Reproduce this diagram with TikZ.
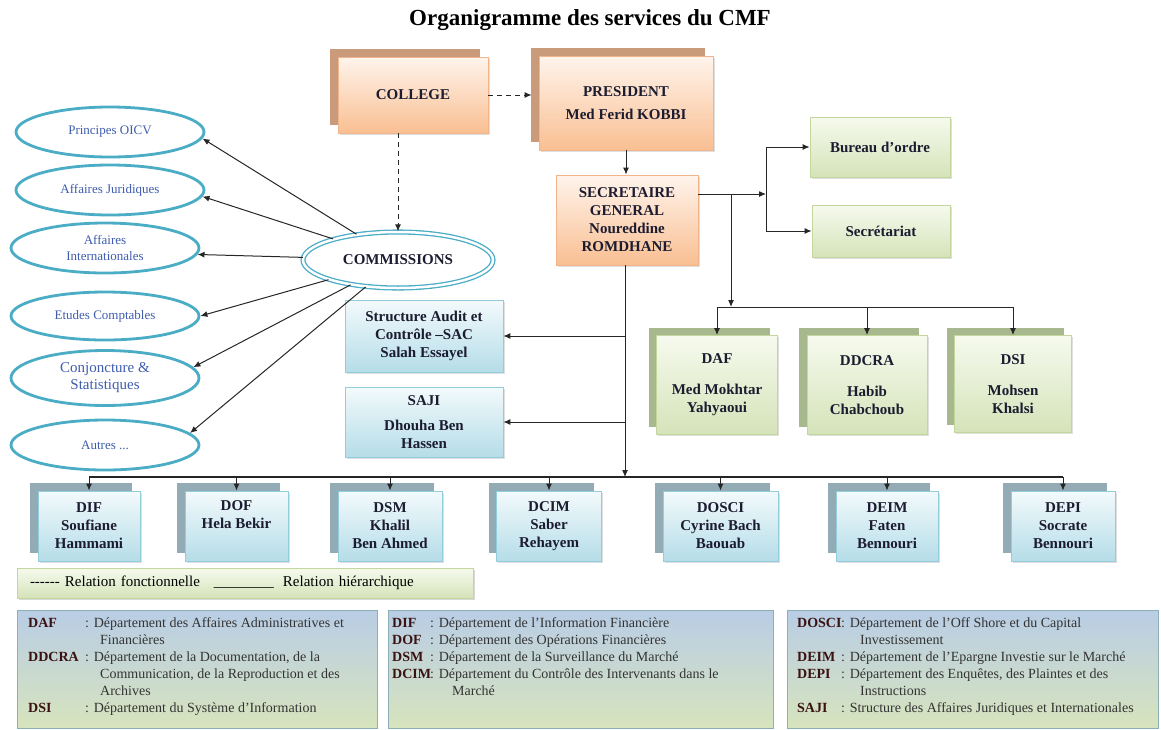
\documentclass[tikz,border=0pt]{standalone}
\usepackage{fontspec}
\setmainfont{Liberation Serif}
\usetikzlibrary{shapes.geometric,shadows,arrows.meta,calc}

\definecolor{orhaut}{HTML}{FFF4EC}
\definecolor{orbas}{HTML}{F9BF92}
\definecolor{orbord}{HTML}{F2B48A}
\definecolor{orombre}{HTML}{C99B7B}
\definecolor{verthaut}{HTML}{F6FAEE}
\definecolor{vertbas}{HTML}{D5E3B9}
\definecolor{vertbord}{HTML}{C3D69B}
\definecolor{vertombre}{HTML}{A7B78E}
\definecolor{bleuhaut}{HTML}{F3FAFC}
\definecolor{bleubas}{HTML}{B5DDE8}
\definecolor{bleubord}{HTML}{92CDDC}
\definecolor{bleuombre}{HTML}{93ABB5}
\definecolor{turq}{HTML}{4BACC6}
\definecolor{bleutxt}{HTML}{3F5DAE}
\definecolor{panhaut}{HTML}{B9CDE5}
\definecolor{panbas}{HTML}{D7E4BD}
\definecolor{encre}{HTML}{1C1C30}
\definecolor{sigle}{HTML}{3A1212}
\definecolor{trait}{HTML}{262626}

% sigle en gras, largeur fixe
\newcommand{\abrev}[2][57pt]{\makebox[#1][l]{\bfseries\color{sigle}#2}}

\tikzset{
  boite/.style={rectangle, draw, line width=0.8pt, align=center, text=encre,
    font=\fontsize{15}{18}\selectfont\bfseries, inner sep=2pt,
    drop shadow={shadow xshift=1.5pt, shadow yshift=-1.5pt, opacity=.25}},
  boiteor/.style={boite, draw=orbord, top color=orhaut, bottom color=orbas},
  boitevert/.style={boite, draw=vertbord, top color=verthaut, bottom color=vertbas},
  boitebleu/.style={boite, draw=bleubord, top color=bleuhaut, bottom color=bleubas},
  dos/.style={general shadow={fill=#1, draw=none, shadow xshift=-8pt, shadow yshift=8pt}},
  bulle/.style={ellipse, draw=turq, line width=2.8pt, fill=white, text=bleutxt,
    font=\fontsize{13}{16}\selectfont, align=center, inner sep=0pt,
    minimum width=188, minimum height=50},
  comm/.style={ellipse, draw=turq, double=white, line width=1.3pt, double distance=2.5pt,
    fill=white, text=encre, font=\fontsize{15}{18}\selectfont\bfseries,
    minimum width=190, minimum height=56},
  fleche/.style={-{Latex[length=7pt,width=6pt]}, line width=1pt, draw=trait},
  tirets/.style={fleche, dash pattern=on 5pt off 4pt},
  panneau/.style={rectangle, draw=bleubord!60!gray, line width=0.5pt,
    top color=panhaut, bottom color=panbas, anchor=north west, inner sep=0pt},
  texteleg/.style={anchor=north west, inner sep=0pt, text=black!80, align=left,
    font=\fontsize{14}{17}\selectfont},
}

\begin{document}
\begin{tikzpicture}[x=1pt,y=-1pt]
  \useasboundingbox (0,0) rectangle (1161,729);
  \node[font=\fontsize{23}{26}\selectfont\bfseries] (titre) at (590,20) {Organigramme des services du CMF};

  % collège, président, secrétaire général
  \node[boiteor, dos=orombre, minimum width=150, minimum height=76] (col) at (413,95) {COLLEGE};
  \node[boiteor, dos=orombre, minimum width=174, minimum height=94] (pres) at (626,103) {PRESIDENT\\[5pt]Med Ferid KOBBI};
  \node[boiteor, minimum width=142, minimum height=90] (sg) at (627,220) {SECRETAIRE\\GENERAL\\Noureddine\\ROMDHANE};

  % bureau d'ordre, secrétariat
  \node[boitevert, minimum width=140, minimum height=60] (bo) at (880,147) {Bureau d’ordre};
  \node[boitevert, minimum width=138, minimum height=52] (sec) at (881,231) {Secrétariat};

  % départements rattachés au SG
  \node[boitevert, dos=vertombre, minimum width=121, minimum height=99] (daf) at (717,385) {DAF\\[13pt]Med Mokhtar\\Yahyaoui};
  \node[boitevert, dos=vertombre, minimum width=120, minimum height=99] (ddcra) at (867,385) {DDCRA\\[13pt]Habib\\Chabchoub};
  \node[boitevert, dos=vertombre, minimum width=117, minimum height=97] (dsi) at (1013,384) {DSI\\[13pt]Mohsen\\Khalsi};

  % SAC, SAJI
  \node[boitebleu, minimum width=158, minimum height=72] (sac) at (424,336) {Structure Audit et\\Contrôle –SAC\\Salah Essayel};
  \node[boitebleu, minimum width=158, minimum height=70] (saji) at (424,422) {SAJI\\[7pt]Dhouha Ben\\Hassen};

  % directions du bas
  \node[boitebleu, dos=bleuombre, minimum width=102, minimum height=70] (dif) at (89,526) {DIF\\Soufiane\\Hammami};
  \node[boitebleu, dos=bleuombre, minimum width=103, minimum height=70] (dof) at (236.5,526) {DOF\\Hela Bekir\\\strut};
  \node[boitebleu, dos=bleuombre, minimum width=104, minimum height=70] (dsm) at (390,526) {DSM\\Khalil\\Ben Ahmed};
  \node[boitebleu, dos=bleuombre, minimum width=105, minimum height=70] (dcim) at (549,526) {DCIM\\Saber\\Rehayem};
  \node[boitebleu, dos=bleuombre, minimum width=115, minimum height=70] (dosci) at (720.5,526) {DOSCI\\Cyrine Bach\\Baouab};
  \node[boitebleu, dos=bleuombre, minimum width=102, minimum height=70] (deim) at (887,526) {DEIM\\Faten\\Bennouri};
  \node[boitebleu, dos=bleuombre, minimum width=104, minimum height=70] (depi) at (1063,526) {DEPI\\Socrate\\Bennouri};

  % commissions
  \node[bulle] (oicv) at (110,132) {Principes OICV};
  \node[bulle] (jur) at (110,190) {Affaires Juridiques};
  \node[bulle] (inter) at (105,248) {Affaires\\Internationales};
  \node[bulle, minimum height=48] (etu) at (105,316) {Etudes Comptables};
  \node[bulle, minimum height=55, font=\fontsize{15}{17}\selectfont] (conj) at (105,378) {Conjoncture \&\\Statistiques};
  \node[bulle] (aut) at (105,445) {Autres ...};
  \node[comm] (com) at (398,260) {COMMISSIONS};

  % relations fonctionnelles
  \draw[tirets] (col.east) -- ($(col.east -| pres.west)+(-7,0)$);
  \draw[tirets] (col.south -| com.north) -- (com.north);
  \foreach \e/\a in {oicv/-4, jur/-4, inter/-4, etu/0, conj/7, aut/8}
    \draw[fleche] (com) -- (\e.\a);

  % relations hiérarchiques
  \coordinate (jr) at (766,194);
  \coordinate (jd) at (731,194);
  \coordinate (hs) at (731,307);
  \coordinate (hb) at (625,477);
  \draw[fleche] (pres.south) -- (pres.south |- sg.north);
  \draw[fleche] (sg.east |- jr) -- (jr);
  \draw[line width=1pt, trait] (jr |- bo) -- (jr |- sec);
  \draw[fleche] (jr |- bo) -- (bo);
  \draw[fleche] (jr |- sec) -- (sec);
  \draw[fleche] (jd) -- (hs);
  \draw[line width=1pt, trait] (hs -| daf) -- (hs -| dsi);
  \foreach \n in {daf,ddcra,dsi}
    \draw[fleche] (hs -| \n) -- (\n);
  \draw[fleche] (sg.south -| hb) -- (hb);
  \draw[fleche] (hb |- sac) -- (sac);
  \draw[fleche] (hb |- saji) -- (saji);
  \draw[line width=1.2pt, trait] (hb -| dif) -- (hb -| depi);
  \foreach \n in {dif,dof,dsm,dcim,dosci,deim,depi}
    \draw[fleche] (hb -| \n) -- (\n);

  % légende
  \node[rectangle, draw=vertbord, line width=0.6pt, top color=verthaut, bottom color=vertbas,
    minimum width=456, minimum height=30, text width=430, align=left,
    font=\fontsize{15}{17}\selectfont,
    drop shadow={shadow xshift=1.5pt, shadow yshift=-1.5pt, opacity=.3}] (leg) at (245,583)
    {{-}{-}{-}{-}{-}{-} Relation fonctionnelle\hspace{14pt}\_\_\_\_\_\_\_\_\hspace{9pt}Relation hiérarchique};

  % sigles
  \node[panneau, minimum width=360, minimum height=118] (p1) at (17,610) {};
  \node[panneau, minimum width=385, minimum height=118] (p2) at (388,610) {};
  \node[panneau, minimum width=371, minimum height=118] (p3) at (787,610) {};
  \node[texteleg] (t1) at ($(p1.north west)+(11,7)$) {%
    \abrev{DAF}: Département des Affaires Administratives et\\
    \hspace{72pt}Financières\\
    \abrev{DDCRA}: Département de la Documentation, de la\\
    \hspace{72pt}Communication, de la Reproduction et des\\
    \hspace{72pt}Archives\\
    \abrev{DSI}: Département du Système d’Information};
  \node[texteleg] (t2) at ($(p2.north west)+(4,7)$) {%
    \abrev[38pt]{DIF}: Département de l’Information Financière\\
    \abrev[38pt]{DOF}: Département des Opérations Financières\\
    \abrev[38pt]{DSM}: Département de la Surveillance du Marché\\
    \abrev[38pt]{DCIM}: Département du Contrôle des Intervenants dans le\\
    \hspace{60pt}Marché};
  \node[texteleg] (t3) at ($(p3.north west)+(10,7)$) {%
    \abrev[44pt]{DOSCI}: Département de l’Off Shore et du Capital\\
    \hspace{63pt}Investissement\\
    \abrev[44pt]{DEIM}: Département de l’Epargne Investie sur le Marché\\
    \abrev[44pt]{DEPI}: Département des Enquêtes, des Plaintes et des\\
    \hspace{63pt}Instructions\\
    \abrev[44pt]{SAJI}: Structure des Affaires Juridiques et Internationales};
\end{tikzpicture}
\end{document}
